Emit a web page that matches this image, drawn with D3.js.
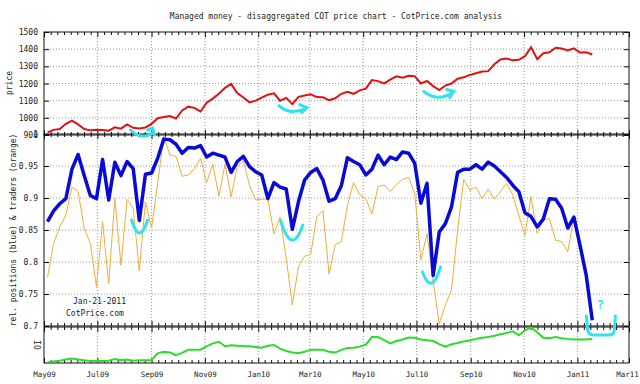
<!DOCTYPE html>
<html>
<head>
<meta charset="utf-8">
<script src="https://d3js.org/d3.v7.min.js"></script>
<style>
  body { margin: 0; background: #fff; }
  svg text { font-family: "DejaVu Sans Mono", monospace; font-size: 8px; fill: #222; }
</style>
</head>
<body>
<svg id="chart" width="640" height="384"></svg>
<script>
// weekly COT report values, first week is Tuesday 2009-05-05
const firstWeek = new Date(2009, 4, 5);

const price = [915, 930, 935, 965, 984, 962, 935, 927, 930, 929,
  925, 945, 937, 962, 942, 938, 944, 965, 998, 1005,
  1010, 996, 1043, 1065, 1058, 1037, 1088, 1112, 1140, 1175,
  1198, 1145, 1118, 1090, 1100, 1118, 1135, 1143, 1100, 1116,
  1080, 1122, 1130, 1137, 1121, 1120, 1103, 1114, 1140, 1152,
  1140, 1160, 1170, 1220, 1214, 1201, 1223, 1242, 1234, 1245,
  1243, 1200, 1215, 1185, 1162, 1188, 1200, 1228, 1236, 1250,
  1260, 1270, 1272, 1312, 1340, 1345, 1336, 1338, 1359, 1412,
  1342, 1376, 1382, 1408, 1404, 1392, 1405, 1380, 1382, 1369];

// relative positions (blue)
const positions = [0.863, 0.880, 0.891, 0.899, 0.945, 0.968, 0.935, 0.904, 0.899, 0.960,
  0.897, 0.956, 0.935, 0.957, 0.946, 0.865, 0.937, 0.939, 0.962, 0.992,
  0.991, 0.984, 0.970, 0.979, 0.978, 0.982, 0.964, 0.970, 0.967, 0.964,
  0.940, 0.957, 0.965, 0.949, 0.941, 0.936, 0.899, 0.924, 0.917, 0.914,
  0.851, 0.894, 0.928, 0.940, 0.946, 0.928, 0.895, 0.899, 0.919, 0.963,
  0.957, 0.952, 0.936, 0.945, 0.967, 0.952, 0.964, 0.960, 0.972, 0.970,
  0.954, 0.892, 0.923, 0.779, 0.847, 0.860, 0.886, 0.940, 0.945, 0.945,
  0.952, 0.945, 0.956, 0.950, 0.941, 0.932, 0.920, 0.910, 0.877, 0.871,
  0.855, 0.867, 0.899, 0.898, 0.884, 0.853, 0.870, 0.826, 0.780, 0.709];

// relative traders (orange)
const traders = [0.776, 0.829, 0.855, 0.873, 0.917, 0.910, 0.853, 0.829, 0.761, 0.863,
  0.766, 0.899, 0.795, 0.898, 0.884, 0.786, 0.894, 0.853, 0.923, 0.996,
  0.967, 0.965, 0.934, 0.936, 0.946, 0.962, 0.924, 0.953, 0.903, 0.953,
  0.902, 0.950, 0.958, 0.920, 0.897, 0.898, 0.899, 0.844, 0.870, 0.806,
  0.733, 0.793, 0.809, 0.812, 0.871, 0.880, 0.781, 0.827, 0.832, 0.889,
  0.924, 0.905, 0.899, 0.875, 0.918, 0.920, 0.910, 0.921, 0.929, 0.932,
  0.907, 0.803, 0.844, 0.770, 0.703, 0.733, 0.756, 0.850, 0.929, 0.912,
  0.917, 0.899, 0.914, 0.898, 0.910, 0.923, 0.905, 0.873, 0.842, 0.902,
  0.845, 0.866, 0.868, 0.834, 0.832, 0.816, 0.870, 0.826, 0.782, 0.709];

// open interest, relative units (no scale shown)
const openInterest = [2, 4.5, 6.5, 10, 12.5, 10, 7.5, 5.5, 5.5, 5.5,
  6.5, 11, 7.5, 10, 6.5, 7.5, 7.5, 8, 27, 31,
  29, 22, 28, 37, 37, 37, 46, 54.5, 59, 46.5,
  49, 48, 47, 46.5, 44.5, 42.5, 48, 50, 40, 33.5,
  29, 27, 31, 37, 37, 36.5, 31, 29, 36.5, 42,
  42.5, 45.5, 51, 72, 72, 63.5, 54.5, 61, 65.5, 71,
  70, 65.5, 63.5, 61, 52.5, 45.5, 52, 55.5, 60, 62.5,
  67, 70, 72.5, 75.5, 80, 83.5, 88, 77, 91, 99,
  85.5, 70, 69, 72, 69, 67, 65.5, 65.5, 65.5, 67];

const priceTicks = [900, 1000, 1100, 1200, 1300, 1400, 1500];
const relTicks = [0.7, 0.75, 0.8, 0.85, 0.9, 0.95, 1];

const weeks = price.map((d, i) => d3.timeDay.offset(firstWeek, 7 * i));

const svg = d3.select("#chart");
const left = 44, right = 629;
const start = new Date(2009, 4, 1), end = new Date(2011, 2, 1);

const x = d3.scaleTime().domain([start, end]).range([left, right]);

// major ticks every 2 months, 8 minor intervals between them
const majors = d3.timeMonth.every(2).range(start, d3.timeDay.offset(end, 1));
const minors = [];
for (let i = 0; i < majors.length - 1; i++) {
    const a = +majors[i], b = +majors[i + 1];
    for (let k = 1; k < 8; k++) minors.push(new Date(a + (b - a) * k / 8));
}

const panels = [
    { top: 32, bottom: 135, y: d3.scaleLinear().domain([900, 1500]).range([135, 32]), ticks: priceTicks, fmt: d => d },
    { top: 134, bottom: 326, y: d3.scaleLinear().domain([0.7, 1]).range([326, 134]), ticks: relTicks, fmt: d => String(+d.toFixed(2)) },
    { top: 327, bottom: 363, y: d3.scaleLinear().domain([0, 100]).range([363, 327]), ticks: [], fmt: d => d }
];

panels.forEach(p => {
    const g = svg.append("g");

    // dotted grid
    g.selectAll(".vgrid")
        .data(majors.slice(1, -1))
        .enter().append("line")
        .attr("x1", d => x(d)).attr("x2", d => x(d))
        .attr("y1", p.top).attr("y2", p.bottom)
        .style("stroke", "#999").style("stroke-dasharray", "1,2");

    g.selectAll(".hgrid")
        .data(p.ticks.slice(1, -1))
        .enter().append("line")
        .attr("x1", left).attr("x2", right)
        .attr("y1", d => p.y(d)).attr("y2", d => p.y(d))
        .style("stroke", "#999").style("stroke-dasharray", "1,2");

    g.append("rect")
        .attr("x", left).attr("y", p.top)
        .attr("width", right - left).attr("height", p.bottom - p.top)
        .style("fill", "none").style("stroke", "#111");

    // ticks pointing inward on all sides
    const addAxis = (axis, tx, ty) => {
        const a = g.append("g").attr("transform", `translate(${tx},${ty})`).call(axis);
        a.select(".domain").remove();
        a.selectAll("line").style("stroke", "#111");
        return a;
    };
    addAxis(d3.axisTop(x).tickValues(majors).tickSize(-5).tickFormat(""), 0, p.top);
    addAxis(d3.axisTop(x).tickValues(minors).tickSize(-3).tickFormat(""), 0, p.top);
    addAxis(d3.axisBottom(x).tickValues(majors).tickSize(-5).tickFormat(""), 0, p.bottom);
    addAxis(d3.axisBottom(x).tickValues(minors).tickSize(-3).tickFormat(""), 0, p.bottom);

    if (p.ticks.length) {
        addAxis(d3.axisLeft(p.y).tickValues(p.ticks).tickSize(-5).tickPadding(6).tickFormat(p.fmt), left, 0);
        addAxis(d3.axisRight(p.y).tickValues(p.ticks).tickSize(-5).tickFormat(""), right, 0);
    }
});

// month labels under the bottom panel
const xLabels = svg.append("g")
    .attr("transform", `translate(0,${panels[2].bottom})`)
    .call(d3.axisBottom(x).tickValues(majors).tickSize(0).tickPadding(9).tickFormat(d3.timeFormat("%b%y")));
xLabels.select(".domain").remove();
xLabels.selectAll("text").style("font-size", "7.5px");
// keep the last label inside the picture
xLabels.selectAll("text").filter((d, i, n) => i === n.length - 1).attr("x", -2);

// series
const lineOf = y => d3.line().x((d, i) => x(weeks[i])).y(d => y(d));

svg.append("path").datum(price)
    .attr("d", lineOf(panels[0].y))
    .style("fill", "none").style("stroke", "#e41010").style("stroke-width", 2);

svg.append("path").datum(traders)
    .attr("d", lineOf(panels[1].y))
    .style("fill", "none").style("stroke", "#f2ac3a").style("stroke-width", 1);

svg.append("path").datum(positions)
    .attr("d", lineOf(panels[1].y))
    .style("fill", "none").style("stroke", "#0a0ad8").style("stroke-width", 3.5)
    .style("stroke-linejoin", "round");

svg.append("path").datum(openInterest)
    .attr("d", lineOf(panels[2].y))
    .style("fill", "none").style("stroke", "#2bdc2b").style("stroke-width", 2);

// hand drawn cyan marks, anchored on the scales
const marks = [
    { date: new Date(2009, 8, 1), y: panels[0].y(900), d: "M-21,-5 Q-11,5 0,-1 M-4,-5 L1,-7 L3,0" },
    { date: new Date(2010, 2, 1), y: panels[0].y(1100), d: "M-31,5 Q-20,15 -4,8 M-10,4 L-3,7 L-8,12" },
    { date: new Date(2010, 8, 1), y: panels[0].y(1200), d: "M-47,8 Q-33,19 -18,9 M-24,6 L-17,8 L-21,14" },
    { date: new Date(2009, 8, 1), y: panels[1].y(0.85), d: "M-20,-10 Q-12,16 -4,-10" },
    { date: new Date(2010, 2, 1), y: panels[1].y(0.85), d: "M-29,-9 Q-18,27 -7,-5" },
    { date: new Date(2010, 6, 1), y: panels[1].y(0.8), d: "M6,10 Q15,35 24,5" },
    { date: new Date(2011, 0, 1), y: panels[1].y(0.7), d: "M9,-10 L10,3 Q11,9 16,9 L32,9 Q37,9 37,3 L38,-10" }
];
svg.selectAll(".mark")
    .data(marks)
    .enter().append("path")
    .attr("transform", d => `translate(${x(d.date)},${d.y})`)
    .attr("d", d => d.d)
    .style("fill", "none").style("stroke", "#2fe3f0").style("stroke-width", 3)
    .style("stroke-linecap", "round");

svg.append("text")
    .attr("x", x(new Date(2011, 0, 1)) + 23).attr("y", panels[1].y(0.7) - 17)
    .attr("text-anchor", "middle")
    .style("font-size", "12px").style("font-weight", "bold").style("fill", "#2fe3f0")
    .text("?");

// titles and labels
svg.append("text").attr("x", 336).attr("y", 18.5).attr("text-anchor", "middle")
    .text("Managed money - disaggregated COT price chart - CotPrice.com analysis");

svg.append("text").attr("transform", "translate(12,83) rotate(-90)").attr("text-anchor", "middle").text("price");
svg.append("text").attr("transform", "translate(16,230) rotate(-90)").attr("text-anchor", "middle")
    .text("rel. positions (blue) & traders (orange)");
svg.append("text").attr("transform", "translate(41,345) rotate(-90)").attr("text-anchor", "middle").text("OI");

svg.append("text").attr("x", 73).attr("y", 303.5).text("Jan-21-2011");
svg.append("text").attr("x", 66).attr("y", 315.5).text("CotPrice.com");
</script>
</body>
</html>
